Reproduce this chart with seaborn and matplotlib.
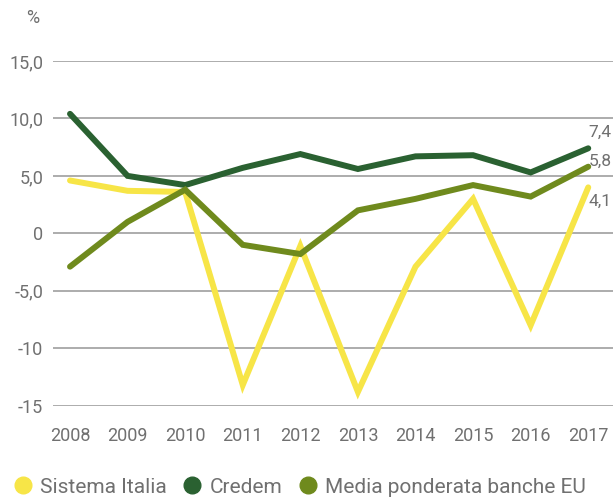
import pandas as pd
import seaborn as sns
import matplotlib.pyplot as plt
from matplotlib.lines import Line2D

anni = [2008, 2009, 2010, 2011, 2012, 2013, 2014, 2015, 2016, 2017]
sistema_italia = [4.6, 3.7, 3.6, -13.2, -1.1, -13.8, -2.9, 3.0, -8.0, 4.0]
credem = [10.4, 5.0, 4.2, 5.7, 6.9, 5.6, 6.7, 6.8, 5.3, 7.4]
media_eu = [-2.9, 1.0, 3.8, -1.0, -1.8, 2.0, 3.0, 4.2, 3.2, 5.8]

serie = ["Sistema Italia", "Credem", "Media ponderata banche EU"]
colori = ["#F7E547", "#2A6131", "#6F8A1D"]
etichette_fine = ["4,1", "7,4", "5,8"]
tick_y = [-15, -10, -5, 0, 5, 10, 15]
tick_y_label = ["-15", "-10", "-5,0", "0", "5,0", "10,0", "15,0"]

df = pd.DataFrame({
    "anno": anni * 3,
    "valore": sistema_italia + credem + media_eu,
    "serie": [serie[0]] * 10 + [serie[1]] * 10 + [serie[2]] * 10,
})

sns.set_theme(style="white")
plt.rcParams["font.family"] = ["Roboto", "DejaVu Sans"]
grigio = "#707070"

fig = plt.figure(figsize=(6.13, 4.97), dpi=100)
ax = fig.add_axes([0.0865, 0.1837, 0.9135, 0.6936])

sns.lineplot(data=df, x="anno", y="valore", hue="serie", hue_order=serie,
             palette=dict(zip(serie, colori)), linewidth=4.3, ax=ax,
             legend=False, zorder=3)
for l in ax.lines:
    l.set_solid_capstyle("round")
    l.set_solid_joinstyle("miter")

ax.set_xlim(2007.705, 2017.43)
ax.set_ylim(-15, 15)
ax.set_yticks(tick_y)
ax.set_yticklabels(tick_y_label)
ax.set_xticks(anni)
ax.set_xticklabels([str(a) for a in anni])
ax.grid(axis="y", color="#a6a6a6", linewidth=1.3, zorder=0)
ax.grid(axis="x", visible=False)
for s in ax.spines.values():
    s.set_visible(False)
ax.tick_params(axis="y", length=0, pad=7, labelsize=13, labelcolor=grigio)
ax.tick_params(axis="x", length=0, pad=15, labelsize=13, labelcolor=grigio)
ax.set_xlabel("")
ax.set_ylabel("")

fig.text(33 / 613, 1 - 18 / 497, "%", ha="center", va="center",
         fontsize=13, color=grigio)

# etichette finali
valori_fine = [sistema_italia[-1], credem[-1], media_eu[-1]]
offset = [-14, 16, 5]
for v, e, o in zip(valori_fine, etichette_fine, offset):
    ax.annotate(e, xy=(anni[-1], v), xytext=(0.3, o * 0.72), textcoords="offset points",
                ha="left", va="center", fontsize=12.5, color=grigio,
                annotation_clip=False)

handles = [Line2D([], [], linestyle="none", marker="o", markersize=12,
                  markerfacecolor=c, markeredgecolor=c) for c in colori]
fig.legend(handles, serie, loc="lower left", bbox_to_anchor=(-0.014, -0.037),
           ncol=3, frameon=False, handletextpad=0.25,
           columnspacing=0.6, handlelength=1.2, labelcolor=grigio,
           prop={"size": 15})

fig.savefig("out.png", dpi=100)
